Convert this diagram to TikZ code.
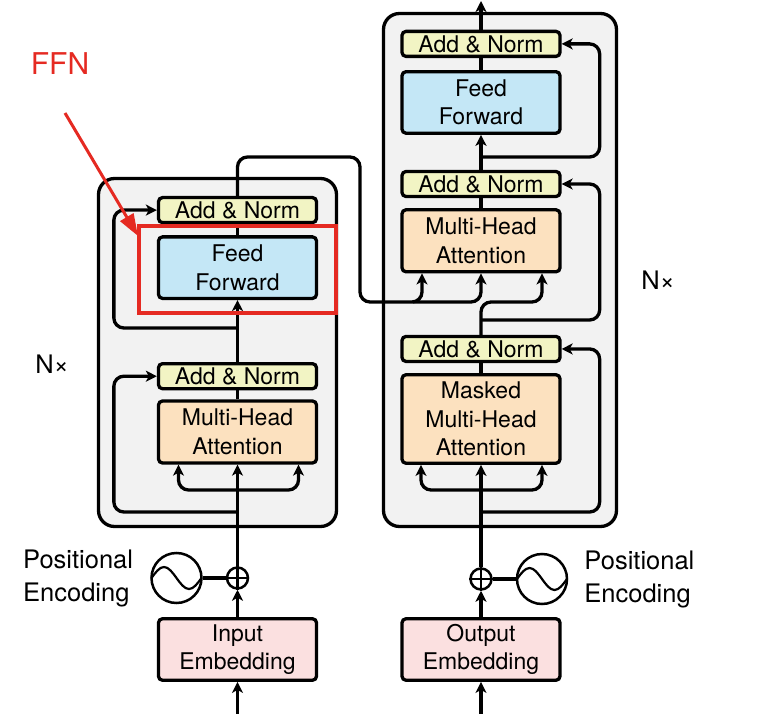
\documentclass[tikz,border=0pt]{standalone}
\usepackage{fontspec}
\setmainfont{TeX Gyre Heros}
\usepackage{xcolor}
\usetikzlibrary{positioning, arrows.meta}
\definecolor{normfill}{HTML}{F2F4C4}
\definecolor{fffill}{HTML}{C4E7F6}
\definecolor{attfill}{HTML}{FCE1BF}
\definecolor{embfill}{HTML}{FBE0E0}
\definecolor{stackfill}{HTML}{F2F2F2}
\definecolor{ffnred}{HTML}{E52A22}

\begin{document}
\begin{tikzpicture}[x=1pt, y=-1pt, node distance=10pt,
	block/.style={draw, line width=3.3pt, rounded corners=4pt, minimum width=158pt, align=center, inner sep=0pt, font=\fontsize{23}{28.5}\selectfont},
	norm/.style={block, fill=normfill, minimum height=25pt},
	ffwd/.style={block, fill=fffill, minimum height=61.5pt},
	attn/.style={block, fill=attfill, minimum height=62pt},
	embed/.style={block, fill=embfill, minimum height=61.5pt},
	stack/.style={draw, fill=stackfill, line width=3.3pt, rounded corners=16pt},
	oplus/.style={draw, circle, line width=2.5pt, minimum size=21pt, inner sep=0pt},
	posenc/.style={draw, circle, line width=2.5pt, minimum size=50pt, inner sep=0pt},
	wire/.style={line width=3.3pt, rounded corners=10pt},
	arr/.style={wire, -{Stealth[length=11pt, width=11pt, inset=3pt]}},
	side/.style={font=\fontsize{25.5}{33}\selectfont, align=left, inner sep=0pt},
	]
	\useasboundingbox (0,0) rectangle (763,714);

	\node[stack, minimum width=238pt, minimum height=348pt] (enc) at (217.5,352.5) {};
	\node[stack, minimum width=233pt, minimum height=513pt] (dec) at (500,270) {};

	\node[attn] (emha) at (237.5,432) {Multi-Head\\Attention};
	\node[norm, above=9pt of emha] (ean1) {Add \& Norm};
	\node[ffwd, above=62pt of ean1] (eff) {Feed\\Forward};
	\node[norm, above=11pt of eff] (ean2) {Add \& Norm};
	\node[oplus] (eplus) at (237.5,578) {};
	\node[posenc, left=23pt of eplus] (epe) {};
	\node[embed] (eemb) at (237.5,649.5) {Input\\Embedding};
	\node[side, left=17pt of epe] (eposlbl) {Positional\\Encoding};
	\node[side] (enx) at (52,364) {N×};

	\node[attn, minimum height=88.5pt] (dmmha) at (481,419) {Masked\\Multi-Head\\Attention};
	\node[norm, above=10pt of dmmha] (dan1) {Add \& Norm};
	\node[attn] (dmha) at (481,240.8) {Multi-Head\\Attention};
	\node[norm, above=10pt of dmha] (dan2) {Add \& Norm};
	\node[ffwd, above=35pt of dan2] (dff) {Feed\\Forward};
	\node[norm, above=12pt of dff] (dan3) {Add \& Norm};
	\node[oplus] (dplus) at (481,579) {};
	\node[posenc, right=23pt of dplus] (dpe) {};
	\node[embed] (demb) at (481,649.5) {Output\\Embedding};
	\node[side, right=16pt of dpe] (dposlbl) {Positional\\Encoding};
	\node[side] (dnx) at (658,280) {N×};

	\coordinate (ein) at (237.5,716);
	\coordinate (din) at (481,716);
	\coordinate (dout) at (481,1);

	\draw[arr] (ein) -- (eemb);
	\draw[arr] (eemb) -- (eplus);
	\draw[wire] (epe) -- (eplus);
	\draw[arr] (eplus) -- (emha);
	\draw[arr] (237.5,490) -| ([xshift=-59pt]emha.south);
	\draw[arr] (237.5,490) -| ([xshift=61pt]emha.south);
	\draw[arr] (237.5,512) -| ([xshift=-43pt]ean1.west) -- (ean1.west);
	\draw[wire] (emha) -- (ean1);
	\draw[arr] (ean1) -- (eff);
	\draw[arr] (237.5,328) -| ([xshift=-43pt]ean2.west) -- (ean2.west);
	\draw[wire] (eff) -- (ean2);
	\draw[arr] (ean2.north) |- (360,157) |- (422,302) -- ([xshift=-59pt]dmha.south);
	\draw[arr] (413,302) -| (dmha.south);

	\draw[arr] (din) -- (demb);
	\draw[arr] (demb) -- (dplus);
	\draw[wire] (dplus) -- (dpe);
	\draw[arr] (dplus) -- (dmmha);
	\draw[arr] (481,490) -| ([xshift=-60pt]dmmha.south);
	\draw[arr] (481,490) -| ([xshift=61pt]dmmha.south);
	\draw[arr] (481,512) -| ([xshift=38pt]dan1.east) -- (dan1.east);
	\draw[wire] (dmmha) -- (dan1);
	\draw[arr] (dan1.north) |- (542,302) -- ([xshift=61pt]dmha.south);
	\draw[arr] (481,320) -| ([xshift=38pt]dan2.east) -- (dan2.east);
	\draw[wire] (dmha) -- (dan2);
	\draw[arr] (dan2) -- (dff);
	\draw[arr] (481,157) -| ([xshift=38pt]dan3.east) -- (dan3.east);
	\draw[wire] (dff) -- (dan3);
	\draw[arr] (dan3) -- (dout);

	\draw[line width=2.5pt] (eplus.north) -- (eplus.south) (eplus.west) -- (eplus.east);
	\draw[line width=2.5pt] (dplus.north) -- (dplus.south) (dplus.west) -- (dplus.east);
	\draw[line width=2.2pt] (epe.center) ++(-25,0) sin ++(12.5,-11) cos ++(12.5,11) sin ++(12.5,11) cos ++(12.5,-11);
	\draw[line width=2.2pt] (dpe.center) ++(-25,0) sin ++(12.5,-11) cos ++(12.5,11) sin ++(12.5,11) cos ++(12.5,-11);

	\node[draw=ffnred, line width=4pt, minimum width=197pt, minimum height=87pt] (ffnbox) at (237.5,269.5) {};
	\node[text=ffnred, font=\fontsize{30}{30}\selectfont] (ffnlbl) at (60,64) {FFN};
	\coordinate (ffntail) at (65,113);
	\coordinate (ffntip) at (138,236);
	\draw[ffnred, line width=3pt, -{Triangle[length=22pt, width=15pt]}] (ffntail) -- (ffntip);
\end{tikzpicture}
\end{document}
